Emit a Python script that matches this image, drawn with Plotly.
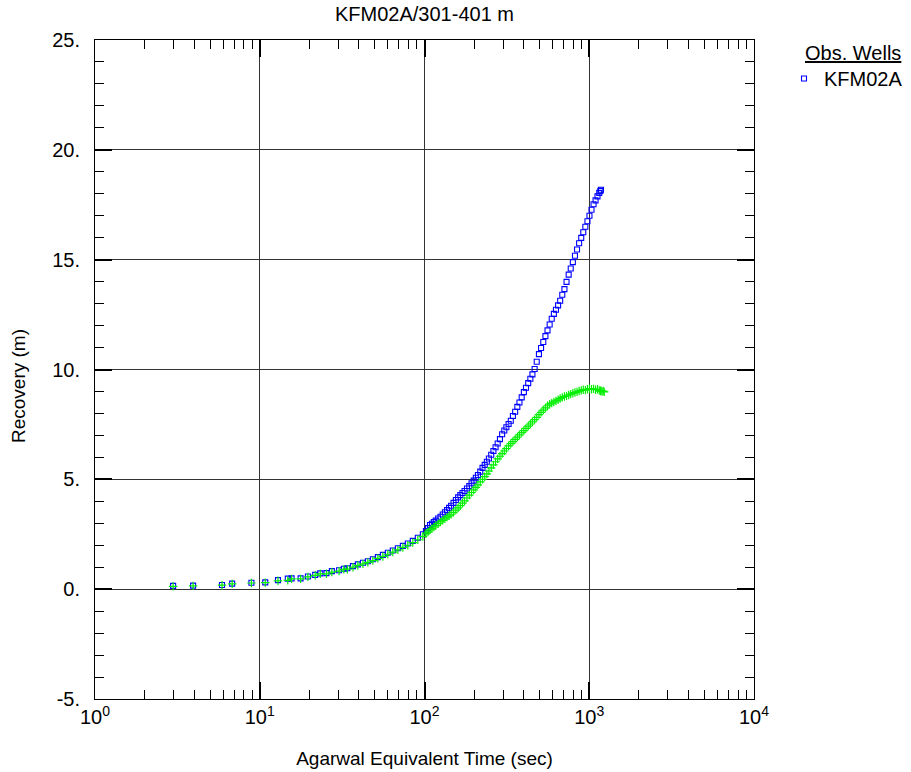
import plotly.graph_objects as go

# ---------------- data ----------------
time_s = [
    2.98, 3.94, 5.9, 6.8, 8.9, 10.8, 12.9, 14.8, 15.6, 17.7, 19.6, 21.7, 23.3, 25.4, 27.4,
    30.3, 32.4, 34.0, 36.8, 39.4, 42.3, 45.3, 48.6, 52.1, 55.9, 59.9, 64.2, 68.9, 73.9, 79.2,
    84.9, 91.1, 97.7,
    102, 105, 108, 111, 114, 117, 121, 125, 129, 133, 137, 141, 145, 150, 155, 160, 165, 170,
    175, 181, 187, 193, 199, 205, 211, 218, 225, 232, 239, 246, 254, 262, 270, 278, 287, 296,
    305, 314, 324, 334, 344, 355, 366, 377, 389, 401, 413, 426, 439, 452, 466, 480, 495, 510,
    526, 542, 558, 575, 592, 610, 628, 647, 666, 686, 707, 728, 750, 772, 795, 819, 843, 868,
    894, 920, 947, 975, 1003, 1032, 1062, 1092, 1122, 1150, 1168, 1178,
    1195, 1215, 1233,
]

recovery_kfm02a = [
    0.15, 0.16, 0.19, 0.25, 0.29, 0.31, 0.41, 0.48, 0.49, 0.49, 0.58, 0.65, 0.72, 0.73, 0.82,
    0.86, 0.93, 0.95, 1.05, 1.13, 1.20, 1.27, 1.36, 1.46, 1.56, 1.66, 1.76, 1.86, 1.97, 2.08,
    2.20, 2.34, 2.50,
    2.65, 2.78, 2.92, 2.98, 3.06, 3.12, 3.22, 3.30, 3.40, 3.50, 3.60, 3.70, 3.80, 3.93, 4.06,
    4.18, 4.28, 4.38, 4.47, 4.58, 4.69, 4.82, 4.94, 5.07, 5.20, 5.35, 5.52, 5.66, 5.80, 5.95,
    6.12, 6.29, 6.46, 6.63, 6.83, 7.05, 7.22, 7.37, 7.52, 7.67, 7.88, 8.08, 8.30, 8.50, 8.73,
    8.97, 9.17, 9.38, 9.58, 9.78, 10.02, 10.35, 10.70, 10.98, 11.25, 11.52, 11.78, 12.05, 12.31,
    12.53, 12.72, 12.92, 13.13, 13.40, 13.66, 13.99, 14.32, 14.60, 14.89, 15.18, 15.46, 15.75,
    15.99, 16.25, 16.50, 16.75, 17.00, 17.27, 17.52, 17.70, 17.88, 18.04, 18.13, 18.18,
]

recovery_second = [
    0.13, 0.15, 0.18, 0.24, 0.28, 0.30, 0.38, 0.40, 0.47, 0.47, 0.56, 0.63, 0.70, 0.70, 0.78,
    0.82, 0.90, 0.91, 1.00, 1.08, 1.15, 1.22, 1.30, 1.40, 1.49, 1.59, 1.69, 1.79, 1.90, 2.00,
    2.12, 2.25, 2.40,
    2.52, 2.60, 2.70, 2.76, 2.83, 2.89, 2.98, 3.06, 3.13, 3.20, 3.28, 3.34, 3.41, 3.50, 3.60,
    3.70, 3.80, 3.92, 4.02, 4.15, 4.28, 4.40, 4.52, 4.63, 4.75, 4.88, 5.00, 5.12, 5.25, 5.38,
    5.52, 5.66, 5.80, 5.93, 6.05, 6.17, 6.29, 6.40, 6.52, 6.63, 6.72, 6.82, 6.92, 7.02, 7.13,
    7.22, 7.32, 7.42, 7.52, 7.62, 7.72, 7.82, 7.95, 8.05, 8.15, 8.25, 8.35, 8.42, 8.47,
    8.52, 8.57, 8.62, 8.68, 8.73, 8.77, 8.80, 8.84, 8.88, 8.92, 8.95, 8.98, 9.02,
    9.05, 9.08, 9.06, 9.10, 9.13, 9.10, 9.12, 9.08, 9.10, 9.05, 9.02, 9.04,
    9.00, 9.02, 8.98,
]

x_tick_vals = [1, 10, 100, 1000, 10000]
x_tick_text = ["10<sup>0</sup>", "10<sup>1</sup>", "10<sup>2</sup>", "10<sup>3</sup>", "10<sup>4</sup>"]
y_tick_vals = [-5, 0, 5, 10, 15, 20, 25]
y_tick_text = ["-5.", "0.", "5.", "10.", "15.", "20.", "25."]

# ---------------- figure ----------------
FONT = "Arial, 'Liberation Sans', sans-serif"
W, H = 911, 772
L, R, T, B = 95, 157, 40, 73
PW, PH = W - L - R, H - T - B

fig = go.Figure()

fig.add_trace(go.Scatter(
    x=time_s[:len(recovery_kfm02a)], y=recovery_kfm02a,
    mode="markers", name="KFM02A",
    marker=dict(symbol="square-open", size=5, color="#0000ff", line=dict(width=1.1, color="#0000ff")),
))
fig.add_trace(go.Scatter(
    x=time_s[:len(recovery_second)], y=recovery_second,
    mode="markers", name="derivative", showlegend=False,
    marker=dict(symbol="cross-thin-open", size=6, color="#00ee00", line=dict(width=1.2, color="#00ee00")),
))

minor_x = [m * 10 ** k for k in range(0, 4) for m in range(2, 10)]

fig.update_xaxes(
    type="log", range=[0, 4],
    tickmode="array", tickvals=x_tick_vals, ticktext=x_tick_text,
    ticks="inside", ticklen=17, tickwidth=1.5, tickcolor="black",
    showline=True, linecolor="black", linewidth=1, mirror="allticks",
    showgrid=True, gridcolor="#333333", gridwidth=1,
    zeroline=False,
    minor=dict(tickmode="array", tickvals=minor_x, ticks="inside", ticklen=9,
               tickcolor="black", tickwidth=1, showgrid=False),
    tickfont=dict(family=FONT, size=20, color="black"),
    title=dict(text="Agarwal Equivalent Time (sec)", font=dict(family=FONT, size=19, color="black"),
               standoff=24),
)
fig.update_yaxes(
    range=[-5, 25],
    tickmode="array", tickvals=y_tick_vals, ticktext=y_tick_text,
    ticks="inside", ticklen=17, tickwidth=1.5, tickcolor="black",
    showline=True, linecolor="black", linewidth=1, mirror="allticks",
    showgrid=True, gridcolor="#333333", gridwidth=1,
    zeroline=False,
    minor=dict(dtick=1, ticks="inside", ticklen=9, tickcolor="black", tickwidth=1, showgrid=False),
    tickfont=dict(family=FONT, size=20, color="black"),
    ticklabelstandoff=10,
)

fig.update_layout(
    width=W, height=H,
    margin=dict(l=L, r=R, t=T, b=B, pad=0, autoexpand=False),
    paper_bgcolor="white", plot_bgcolor="white",
    font=dict(family=FONT, size=20, color="black"),
    title=dict(text="KFM02A/301-401 m", x=(L + PW / 2) / W, xanchor="center", y=1 - 14 / H, yanchor="middle",
               font=dict(family=FONT, size=20, color="black")),
    showlegend=True,
    legend=dict(
        x=(784 - L) / PW, y=1 - (59 - T) / PH, xanchor="left", yanchor="top",
        bgcolor="rgba(0,0,0,0)", borderwidth=0,
        font=dict(family=FONT, size=20, color="black"),
        itemwidth=30, tracegroupgap=0,
    ),
    annotations=[
        dict(text="<u>Obs. Wells</u>", xref="paper", yref="paper",
             x=(803 - L) / PW, y=1 - (53 - T) / PH, xanchor="left", yanchor="middle",
             showarrow=False, font=dict(family=FONT, size=20, color="black")),
        dict(text="Recovery (m)", xref="paper", yref="paper", textangle=-90,
             x=(18 - L) / PW, y=1 - (386 - T) / PH, xanchor="center", yanchor="middle",
             showarrow=False, font=dict(family=FONT, size=19, color="black")),
    ],
)

fig.write_html("out.html")
